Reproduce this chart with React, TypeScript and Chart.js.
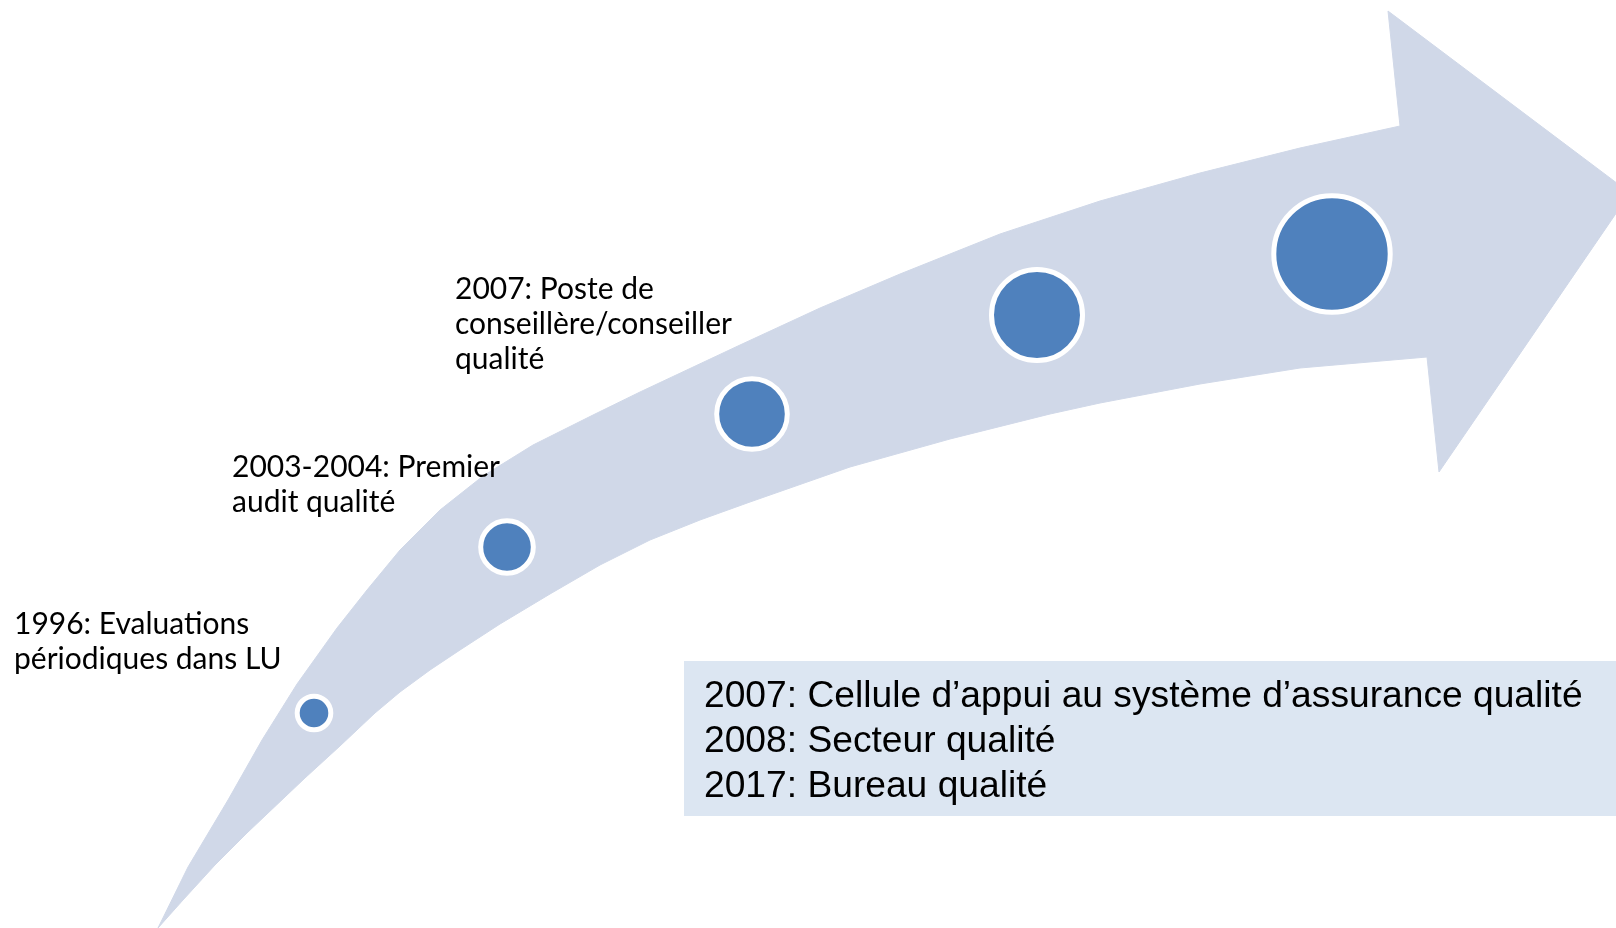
import React, { useEffect, useRef } from "react";
import { Chart, registerables } from "chart.js";

Chart.register(...registerables);

// ---- Milestones (circles along the arrow) ----
const milestoneX = [314, 507, 752, 1037, 1332];
const milestoneY = [713, 547, 414, 315, 254];
const milestoneRadius = [16.8, 26.3, 35.3, 45.5, 58.2];

// ---- Milestone texts ----
const milestoneLabels: string[][] = [
  ["1996: Evaluations", "périodiques dans LU"],
  ["2003-2004: Premier", "audit qualité"],
  ["2007: Poste de", "conseillère/conseiller", "qualité"],
];

// ---- Text box lines ----
const boxLines = [
  "2007: Cellule d’appui au système d’assurance qualité",
  "2008: Secteur qualité",
  "2017: Bureau qualité",
];

// ---- Arrow outline ----
// upper edge of the shaft, tail -> head
const arrowUpperX = [158, 188, 228, 262, 297, 337, 367, 400, 440, 483, 533, 593, 640, 740, 820, 900, 1000, 1100, 1200, 1300, 1400];
const arrowUpperY = [928, 867, 800, 740, 684, 628, 590, 550, 510, 476, 445, 415, 392, 345, 308, 274, 234, 201, 173, 148, 126];
// arrow head corners
const arrowHeadX = [1388, 1630, 1439, 1427];
const arrowHeadY = [11, 193, 472, 357];
// lower edge of the shaft, head -> tail
const arrowLowerX = [1300, 1200, 1100, 1050, 950, 850, 750, 700, 650, 600, 550, 500, 460, 430, 400, 375, 340, 305, 247, 215, 183, 158];
const arrowLowerY = [368, 384, 403, 414, 439, 467, 502, 520, 540, 565, 594, 624, 650, 670, 692, 713, 746, 778, 833, 865, 900, 928];

// ---- Layout (positions of texts, in chart units) ----
const VIEW_W = 1616;
const VIEW_H = 928;
const LABEL_POS = [
  { x: 14, y: 634 },
  { x: 232, y: 477 },
  { x: 455, y: 299 },
];
const LABEL_LINE_H = 35;
const LABEL_FONT = "30px Lato";
const BOX = { x0: 684, x1: 1616, y0: 661, y1: 816, textX: 704, baseline: 707, lineH: 45 };
const BOX_FONT = "37.2px 'Liberation Sans', Arial, sans-serif";

const COLORS = {
  arrow: "#D0D8E8",
  dot: "#4F81BD",
  dotBorder: "#FFFFFF",
  box: "#DCE6F2",
  text: "#000000",
};

const textPlugin = {
  id: "timelineTexts",
  afterDraw(chart: any) {
    const ctx = chart.ctx as CanvasRenderingContext2D;
    const xs = chart.scales.x;
    const ys = chart.scales.y;
    ctx.save();
    ctx.fillStyle = COLORS.text;
    ctx.font = LABEL_FONT;
    ctx.textAlign = "left";
    ctx.textBaseline = "alphabetic";
    milestoneLabels.forEach((lines, i) => {
      const p = LABEL_POS[i];
      lines.forEach((line, j) => {
        ctx.fillText(line, xs.getPixelForValue(p.x), ys.getPixelForValue(p.y + j * LABEL_LINE_H));
      });
    });
    const bx0 = xs.getPixelForValue(BOX.x0);
    const bx1 = xs.getPixelForValue(BOX.x1);
    const by0 = ys.getPixelForValue(BOX.y0);
    const by1 = ys.getPixelForValue(BOX.y1);
    ctx.fillStyle = COLORS.box;
    ctx.fillRect(bx0, by0, bx1 - bx0, by1 - by0);
    ctx.fillStyle = COLORS.text;
    ctx.font = BOX_FONT;
    boxLines.forEach((line, j) => {
      ctx.fillText(line, xs.getPixelForValue(BOX.textX), ys.getPixelForValue(BOX.baseline + j * BOX.lineH));
    });
    ctx.restore();
  },
};

export default function App() {
  const canvasRef = useRef<HTMLCanvasElement | null>(null);

  useEffect(() => {
    const canvas = canvasRef.current;
    if (!canvas) return;

    const outline: { x: number; y: number }[] = [];
    arrowUpperX.forEach((x, i) => outline.push({ x, y: arrowUpperY[i] }));
    arrowHeadX.forEach((x, i) => outline.push({ x, y: arrowHeadY[i] }));
    arrowLowerX.forEach((x, i) => outline.push({ x, y: arrowLowerY[i] }));

    const dots = milestoneX.map((x, i) => ({ x, y: milestoneY[i], r: milestoneRadius[i] }));

    const chart = new Chart(canvas, {
      type: "scatter",
      data: {
        datasets: [
          {
            type: "bubble",
            label: "Étapes",
            data: dots,
            backgroundColor: COLORS.dot,
            borderColor: COLORS.dotBorder,
            borderWidth: 5,
            hoverBorderWidth: 5,
            clip: false,
            order: 1,
          } as any,
          {
            type: "line",
            label: "Flèche",
            data: outline,
            showLine: true,
            fill: "shape",
            backgroundColor: COLORS.arrow,
            borderColor: COLORS.arrow,
            borderWidth: 1,
            pointRadius: 0,
            pointHoverRadius: 0,
            tension: 0,
            order: 2,
          } as any,
        ],
      },
      options: {
        animation: false,
        responsive: true,
        maintainAspectRatio: false,
        events: [],
        layout: { padding: 0, autoPadding: false },
        scales: {
          x: { type: "linear", min: 0, max: VIEW_W, display: false },
          y: { type: "linear", min: 0, max: VIEW_H, reverse: true, display: false },
        },
        plugins: {
          legend: { display: false },
          tooltip: { enabled: false },
        },
      },
      plugins: [textPlugin],
    });

    return () => chart.destroy();
  }, []);

  return (
    <div style={{ position: "fixed", left: 0, top: 0, width: "100vw", height: "100vh", background: "#ffffff" }}>
      <canvas ref={canvasRef} />
    </div>
  );
}
